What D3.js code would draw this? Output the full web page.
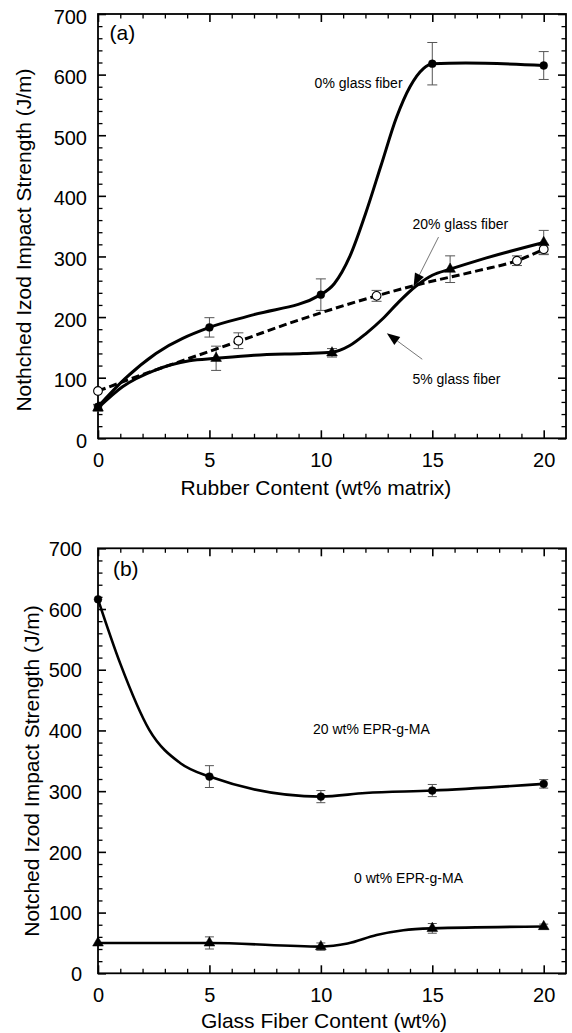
<!DOCTYPE html>
<html><head><meta charset="utf-8">
<script src="https://cdn.jsdelivr.net/npm/d3@7"></script>
<style>
html,body{margin:0;padding:0;background:#fff;}
svg{display:block;font-family:"Liberation Sans",Arial,sans-serif;}
</style></head>
<body>
<svg id="chart" width="572" height="1033"></svg>
<script>
// ---------- DATA: panel (a) ----------
const gf0X = [0, 5, 10, 15, 20];
const gf0Y = [52, 183, 237, 618, 615];
const gf0Err = [4, 16, 26, 35, 23];
const gf5X = [0, 5.3, 10.5, 15.8, 20];
const gf5Y = [50, 132, 141, 279, 323];
const gf5Err = [5, 20, 7, 22, 20];
const gf20X = [0, 6.3, 12.5, 18.8, 20];
const gf20Y = [78, 161, 235, 293, 312];
const gf20Err = [0, 13, 9, 8, 8];
// fitted curves
const fitGf0 = [[0,52],[1.2,98],[2.6,140],[5,183],[7,204],[10,237],[10.6,255],[11.3,300],[12,370],[12.7,450],[13.4,530],[14,580],[14.6,610],[15,618],[16.5,619],[20,615]];
const fitGf5 = [[0,50],[1.1,85],[2.6,113],[4.1,128],[5.3,132],[7,137],[9.2,140],[10.5,142],[11.3,153],[12,172],[12.8,198],[13.5,225],[14.3,252],[15,269],[15.8,279],[17.1,294],[20,323]];
const fitGf20 = [[0,78],[2.6,113],[4.1,132],[6.3,160],[9,195],[12.5,235],[14.3,253],[17.1,277],[18.8,293],[20,312]];

// ---------- DATA: panel (b) ----------
const fiberX = [0, 5, 10, 15, 20];
const epr20Y = [616, 324, 291, 301, 312];
const epr20Err = [0, 18, 10, 10, 7];
const epr0Y = [50, 50, 44, 74, 77];
const epr0Err = [0, 10, 6, 8, 4];
const fitEpr20 = [[0,616],[1,510],[2.3,401],[3.7,346],[5,324],[10,291],[12,297],[15,301],[20,312]];
const fitEpr0 = [[0,50],[5,50],[10,44],[11.2,49],[12.5,63],[13.7,71],[15,74],[20,77]];

// ---------- tick labels ----------
const xTicksMajor = [0, 5, 10, 15, 20];
const yTicksMajor = [0, 100, 200, 300, 400, 500, 600, 700];

const svg = d3.select("#chart");
const FONT = "'Liberation Sans', Arial, sans-serif";

function panel(cfg) {
  const x = d3.scaleLinear().domain([0, 21]).range([98, 566]);
  const y = d3.scaleLinear().domain([0, 700]).range([cfg.bottom, cfg.top]);
  const g = svg.append("g");

  const minorX = d3.range(0, 21, 1).filter(v => v % 5 !== 0);
  const minorY = d3.range(0, 701, 20).filter(v => v % 100 !== 0);
  const axes = [
    [d3.axisBottom(x), `translate(0,${cfg.bottom})`],
    [d3.axisTop(x), `translate(0,${cfg.top})`],
    [d3.axisLeft(y), `translate(98,0)`],
    [d3.axisRight(y), `translate(566,0)`]
  ];
  axes.forEach(([ax, tr], i) => {
    const isX = i < 2;
    const gm = g.append("g").attr("transform", tr)
      .call(ax.tickValues(isX ? minorX : minorY).tickSize(-4.5).tickFormat(""));
    gm.select(".domain").remove();
    gm.selectAll("line").attr("stroke", "#000").attr("stroke-width", 1.3);
  });
  const axMaj = [
    [d3.axisBottom(x).tickValues(xTicksMajor), `translate(0,${cfg.bottom})`, true],
    [d3.axisTop(x).tickValues(xTicksMajor).tickFormat(""), `translate(0,${cfg.top})`, false],
    [d3.axisLeft(y).tickValues(yTicksMajor), `translate(98,0)`, true],
    [d3.axisRight(y).tickValues(yTicksMajor).tickFormat(""), `translate(566,0)`, false]
  ];
  axMaj.forEach(([ax, tr, lab], i) => {
    const ga = g.append("g").attr("transform", tr).call(ax.tickSize(-8));
    ga.select(".domain").remove();
    ga.selectAll("line").attr("stroke", "#000").attr("stroke-width", 1.6);
    ga.selectAll("text").attr("fill", "#000").style("font-family", FONT).style("font-size", "20px");
    if (lab && i === 0) ga.selectAll("text").attr("y", 28.5).attr("dy", null);
    if (lab && i === 2) ga.selectAll("text").attr("x", cfg.yLabX - 98).attr("dy", cfg.yLabDy);
  });

  g.append("rect").attr("x", x(0)).attr("y", y(700))
    .attr("width", x(21) - x(0)).attr("height", y(0) - y(700))
    .attr("fill", "none").attr("stroke", "#000").attr("stroke-width", 1.8);

  g.append("text").attr("x", cfg.xTitleX).attr("y", cfg.xTitleY)
    .attr("text-anchor", "middle").style("font-size", "21px").style("font-family", FONT)
    .text(cfg.xTitle);
  g.append("text").attr("transform", `translate(${cfg.yTitleX},${cfg.yTitleY}) rotate(-90)`)
    .attr("text-anchor", "middle").style("font-size", "21px").style("font-family", FONT)
    .text(cfg.yTitle);
  g.append("text").attr("x", x(cfg.tag[1])).attr("y", y(cfg.tag[2]))
    .style("font-size", "21px").style("font-family", FONT).text(cfg.tag[0]);

  return { g, x, y };
}

function drawCurve(p, pts, width, dash) {
  const line = d3.line().x(d => p.x(d[0])).y(d => p.y(d[1])).curve(d3.curveMonotoneX);
  p.g.append("path").attr("d", line(pts)).attr("fill", "none").attr("stroke", "#000")
    .attr("stroke-width", width).attr("stroke-linejoin", "round")
    .attr("stroke-dasharray", dash || null);
}
function drawErr(p, xs, ys, es, cap) {
  xs.forEach((xv, i) => {
    if (!es[i]) return;
    const cx = p.x(xv), y1 = p.y(ys[i] + es[i]), y2 = p.y(ys[i] - es[i]);
    const gg = p.g.append("g").attr("stroke", "#555").attr("stroke-width", 1);
    gg.append("line").attr("x1", cx).attr("x2", cx).attr("y1", y1).attr("y2", y2);
    gg.append("line").attr("x1", cx - cap).attr("x2", cx + cap).attr("y1", y1).attr("y2", y1);
    gg.append("line").attr("x1", cx - cap).attr("x2", cx + cap).attr("y1", y2).attr("y2", y2);
  });
}
function drawMarks(p, xs, ys, type) {
  const sym = type === "tri" ? d3.symbolTriangle : d3.symbolCircle;
  const size = type === "tri" ? 50 : (type === "open" ? 60 : 48);
  p.g.selectAll(null).data(xs.map((v, i) => [v, ys[i]])).join("path")
    .attr("transform", d => `translate(${p.x(d[0])},${p.y(d[1])})`)
    .attr("d", d3.symbol().type(sym).size(size))
    .attr("fill", type === "open" ? "#fff" : "#000")
    .attr("stroke", "#000").attr("stroke-width", type === "open" ? 1.1 : 0.5);
}
function note(p, txt, xv, yv) {
  p.g.append("text").attr("x", p.x(xv)).attr("y", p.y(yv))
    .style("font-size", "14px").style("font-family", FONT).text(txt);
}
function arrow(p, from, to) {
  const x1 = p.x(from[0]), y1 = p.y(from[1]), x2 = p.x(to[0]), y2 = p.y(to[1]);
  const ang = Math.atan2(y2 - y1, x2 - x1), L = 13, W = 5;
  const bx = x2 - L * Math.cos(ang), by = y2 - L * Math.sin(ang);
  p.g.append("line").attr("x1", x1).attr("y1", y1).attr("x2", bx).attr("y2", by)
    .attr("stroke", "#666").attr("stroke-width", 0.9);
  const px = -Math.sin(ang) * W, py = Math.cos(ang) * W;
  p.g.append("path").attr("d", `M${x2},${y2}L${bx + px},${by + py}L${bx - px},${by - py}Z`).attr("fill", "#000");
}

// ---------- panel (a) ----------
const pa = panel({
  top: 14, bottom: 438.3, yLabX: 87, yLabDy: "0.45em",
  xTitle: "Rubber Content (wt% matrix)", xTitleX: 316, xTitleY: 494.5,
  yTitle: "Nothched Izod Impact Strength (J/m)", yTitleX: 31, yTitleY: 240,
  tag: ["(a)", 0.52, 657]
});
drawErr(pa, gf0X, gf0Y, gf0Err, 5);
drawErr(pa, gf5X, gf5Y, gf5Err, 5);
drawErr(pa, gf20X, gf20Y, gf20Err, 5);
drawCurve(pa, fitGf20, 3, "8,4");
drawCurve(pa, fitGf0, 3);
drawCurve(pa, fitGf5, 3);
drawMarks(pa, gf20X, gf20Y, "open");
drawMarks(pa, gf0X, gf0Y, "dot");
drawMarks(pa, gf5X, gf5Y, "tri");
note(pa, "0% glass fiber", 9.72, 578);
note(pa, "20% glass fiber", 14.11, 345.4);
note(pa, "5% glass fiber", 14.11, 90.4);
arrow(pa, [15.28, 332], [14.16, 250.5]);
arrow(pa, [14.55, 130.4], [12.96, 173.3]);

// ---------- panel (b) ----------
const pb = panel({
  top: 548.3, bottom: 973.3, yLabX: 82, yLabDy: "0.36em",
  xTitle: "Glass Fiber Content (wt%)", xTitleX: 324, xTitleY: 1028,
  yTitle: "Notched Izod Impact Strength (J/m)", yTitleX: 39, yTitleY: 771,
  tag: ["(b)", 0.67, 654.5]
});
drawErr(pb, fiberX, epr20Y, epr20Err, 4.5);
drawErr(pb, fiberX, epr0Y, epr0Err, 4.5);
drawCurve(pb, fitEpr20, 2.6);
drawCurve(pb, fitEpr0, 2.6);
drawMarks(pb, fiberX, epr20Y, "dot");
drawMarks(pb, fiberX, epr0Y, "tri");
note(pb, "20 wt% EPR-g-MA", 9.65, 394);
note(pb, "0 wt% EPR-g-MA", 11.49, 148);
</script>
</body></html>
